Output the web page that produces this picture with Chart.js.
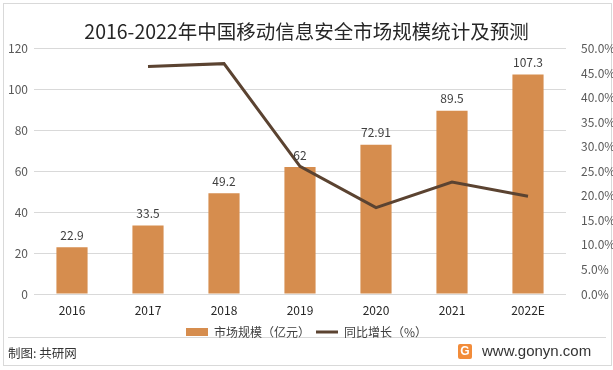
<!DOCTYPE html>
<html><head><meta charset="utf-8">
<script src="https://cdn.jsdelivr.net/npm/chart.js@4/dist/chart.umd.min.js"></script>
<style>
html,body{margin:0;padding:0;background:#fff;}
#wrap{position:relative;width:613px;height:370px;box-sizing:border-box;overflow:hidden;}
#frame{position:absolute;left:3px;top:3px;width:609px;height:363px;border:1px solid #d9d9d9;box-sizing:border-box;}
#cv{position:absolute;left:0;top:0;}
#sep{position:absolute;left:8px;top:337px;width:598px;height:1px;background:#d9d9d9;}
#src{position:absolute;left:8px;top:343px;font:12.5px "Noto Sans CJK SC",sans-serif;color:#333;}
#site{position:absolute;left:482px;top:342px;font:15px "Liberation Sans",Arial,sans-serif;color:#333;}
#logo{position:absolute;left:458px;top:344px;width:14px;height:15px;background:#f28c3a;border-radius:2px;color:#fff;font:bold 12px "Liberation Sans",sans-serif;text-align:center;line-height:15px;}
</style></head>
<body><div id="wrap"><div id="frame"></div>
<div id="sep"></div>
<canvas id="cv" width="613" height="348"></canvas>
<div id="src">制图: 共研网</div>
<div id="logo">G</div>
<div id="site">www.gonyn.com</div>
</div>
<script>
const categories = ['2016','2017','2018','2019','2020','2021','2022E'];
const marketSize = [22.9, 33.5, 49.2, 62, 72.91, 89.5, 107.3];
const marketLabels = ['22.9','33.5','49.2','62','72.91','89.5','107.3'];
const growthRate = [null, 46.3, 46.9, 26.0, 17.6, 22.8, 19.9];
const leftTicks = [0,20,40,60,80,100,120];
const rightTicks = [0,5,10,15,20,25,30,35,40,45,50];

const FONT = '"Noto Sans CJK SC","Noto Sans",sans-serif';
const labelPlugin = {
  id:'barLabels',
  afterDatasetsDraw(chart){
    const ctx = chart.ctx;
    const meta = chart.getDatasetMeta(0);
    ctx.save();
    ctx.font = '12px ' + FONT;
    ctx.fillStyle = '#404040';
    ctx.textAlign = 'center';
    ctx.textBaseline = 'bottom';
    meta.data.forEach((el,i)=>{ ctx.fillText(marketLabels[i], el.x, el.y - 6); });
    ctx.restore();
  }
};

new Chart(document.getElementById('cv'), {
  data:{
    labels: categories,
    datasets:[
      {type:'bar', label:'市场规模（亿元）', data: marketSize, backgroundColor:'#d68d4e', yAxisID:'y',
       barPercentage:0.82, categoryPercentage:0.5, pointStyle:'rect', borderWidth:0, order:2},
      {type:'line', label:'同比增长（%）', data: growthRate, borderColor:'#5b4331', backgroundColor:'#5b4331',
       borderWidth:3, pointRadius:0, tension:0, yAxisID:'y1', pointStyle:'line', order:1}
    ]
  },
  options:{
    responsive:false, animation:false,
    layout:{padding:{left:0,right:0,top:0,bottom:0}},
    plugins:{
      title:{display:true, text:'2016-2022年中国移动信息安全市场规模统计及预测', color:'#262626',
        font:{family:FONT, size:19.5, weight:'normal'}, padding:{top:20,bottom:5}},
      legend:{position:'bottom', labels:{usePointStyle:true, pointStyleWidth:22, boxHeight:8,
        color:'#404040', font:{family:FONT,size:12}, padding:6,
        sort:(a,b)=>a.datasetIndex-b.datasetIndex}},
      tooltip:{enabled:false}
    },
    scales:{
      x:{grid:{display:false, drawTicks:false}, border:{display:false},
        afterFit(s){ s.height = 26; },
        ticks:{color:'#262626', font:{family:FONT,size:12}, padding:9}},
      y:{position:'left', min:0, max:120, grid:{color:'#d9d9d9', drawTicks:false}, border:{display:false},
        afterBuildTicks(s){ s.ticks = leftTicks.map(v=>({value:v})); },
        afterFit(s){ s.width = 34; },
        ticks:{color:'#595959', font:{family:FONT,size:12}, padding:6}},
      y1:{position:'right', min:0, max:50, grid:{display:false}, border:{display:false},
        afterBuildTicks(s){ s.ticks = rightTicks.map(v=>({value:v})); },
        afterFit(s){ s.width = 47; },
        ticks:{color:'#595959', font:{family:FONT,size:12}, padding:7, callback:v=>v.toFixed(1)+'%'}}
    }
  },
  plugins:[labelPlugin]
});
</script></body></html>
